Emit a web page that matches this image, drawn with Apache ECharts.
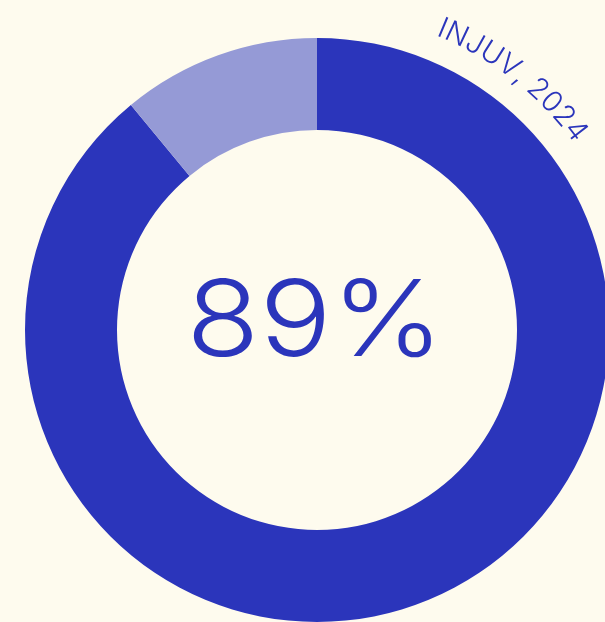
<!DOCTYPE html>
<html>
<head>
<meta charset="utf-8">
<script src="https://cdn.jsdelivr.net/npm/echarts@6/dist/echarts.min.js"></script>
<style>
  html, body { margin: 0; padding: 0; background: #fefbee; }
  #chart { width: 605px; height: 622px; }
</style>
</head>
<body>
<div id="chart"></div>
<script>
// 数据
const categories = ["Sí", "No"];
const values = [89, 11];
const colors = ["#2b35bb", "#959ad6"];
const centerLabel = "89%";
const sourceLabel = "INJUV, 2024";

const myChart = echarts.init(document.getElementById("chart"));

// 弧形来源文字：逐字放在圆弧上
const cx = 317, cy = 330;
const arcR = 312;
const fontSize = 29;
const font = "300 " + fontSize + "px Inter";
const ctx = document.createElement("canvas").getContext("2d");
ctx.font = font;
const widths = sourceLabel.split("").map((c) => ctx.measureText(c).width);
const total = widths.reduce((a, b) => a + b, 0);
const midAngle = 38 * Math.PI / 180; // 顺时针，自正上方
let start = midAngle - total / 2 / arcR;
const arcText = [];
let acc = 0;
sourceLabel.split("").forEach((c, i) => {
  const a = start + (acc + widths[i] / 2) / arcR;
  acc += widths[i];
  arcText.push({
    type: "text",
    x: cx + arcR * Math.sin(a),
    y: cy - arcR * Math.cos(a),
    rotation: -a,
    style: {
      text: c,
      font: font,
      fill: "#2b35bb",
      align: "center",
      verticalAlign: "bottom",
    },
  });
});

myChart.setOption({
  backgroundColor: "#fefbee",
  animation: false,
  graphic: [
    {
      type: "text",
      x: 315,
      y: 324,
      scaleX: 1.13,
      style: {
        text: centerLabel,
        font: "300 106px Inter",
        fill: "#2b35bb",
        align: "center",
        verticalAlign: "middle",
      },
    },
  ].concat(arcText),
  series: [
    {
      type: "pie",
      center: [cx, cy],
      radius: [200, 292],
      startAngle: 90,
      clockwise: true,
      label: { show: false },
      labelLine: { show: false },
      emphasis: { disabled: true },
      itemStyle: { borderWidth: 0 },
      data: categories.map((name, i) => ({
        name: name,
        value: values[i],
        itemStyle: { color: colors[i] },
      })),
    },
  ],
});
</script>
</body>
</html>
